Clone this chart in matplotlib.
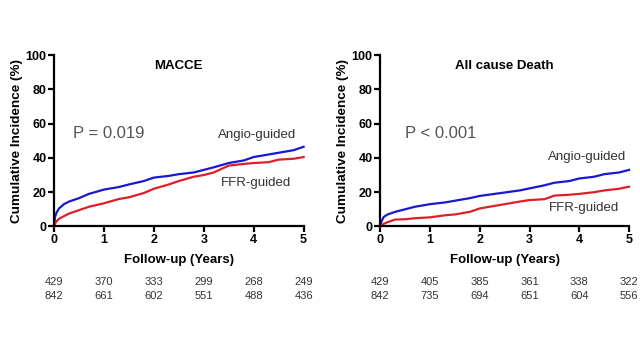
import matplotlib
matplotlib.use("Agg")
import matplotlib.pyplot as plt

# MACCE curves (years, cumulative incidence %)
macce_t = [0, 0.02, 0.05, 0.1, 0.2, 0.3, 0.5, 0.7, 1.0, 1.3, 1.5, 1.8, 2.0, 2.3, 2.5, 2.8, 3.0, 3.2, 3.5, 3.8, 4.0, 4.3, 4.5, 4.8, 5.0]
macce_angio = [0, 5.5, 8, 10.5, 13, 14.5, 16.5, 19, 21.5, 23, 24.5, 26.5, 28.5, 29.5, 30.5, 31.5, 33, 34.5, 37, 38.5, 40.5, 42, 43, 44.5, 46.5]
macce_ffr = [0, 1.5, 3, 4.5, 6, 7.5, 9.5, 11.5, 13.5, 16, 17, 19.5, 22, 24.5, 26.5, 29, 30, 31.5, 35.5, 36.5, 37, 37.5, 39, 39.5, 40.5]

# All cause death curves
death_t = [0, 0.02, 0.07, 0.15, 0.3, 0.5, 0.7, 1.0, 1.3, 1.5, 1.8, 2.0, 2.3, 2.5, 2.8, 3.0, 3.3, 3.5, 3.8, 4.0, 4.3, 4.5, 4.8, 5.0]
death_angio = [0, 2.5, 5.5, 7, 8.5, 10, 11.5, 13, 14, 15, 16.5, 17.8, 19, 19.8, 21, 22.2, 24, 25.5, 26.5, 28, 29, 30.5, 31.5, 33]
death_ffr = [0, 0.5, 1.5, 2.5, 4, 4.2, 4.8, 5.3, 6.5, 7, 8.5, 10.5, 12, 13, 14.5, 15.4, 15.9, 18, 18.5, 19, 20, 21, 22, 23.2]

ticks_x = [0, 1, 2, 3, 4, 5]
macce_risk_angio = [429, 370, 333, 299, 268, 249]
macce_risk_ffr = [842, 661, 602, 551, 488, 436]
death_risk_angio = [429, 405, 385, 361, 338, 322]
death_risk_ffr = [842, 735, 694, 651, 604, 556]

BLUE = "#1818d0"
RED = "#e01e26"
FONT = ["Liberation Sans", "DejaVu Sans"]

plt.rcParams["font.family"] = FONT

fig = plt.figure(figsize=(6.4, 3.6), dpi=100)
ax1 = fig.add_axes([0.0844, 0.371, 0.390, 0.476])
ax2 = fig.add_axes([0.594, 0.371, 0.389, 0.476])


def panel(ax, t, angio, ffr, title, ptext, ptxt_xy, ang_xy, ffr_xy, r_ang, r_ffr):
    ax.plot(t, angio, color=BLUE, lw=1.6, clip_on=False)
    ax.plot(t, ffr, color=RED, lw=1.6, clip_on=False)
    ax.set_xlim(0, 5)
    ax.set_ylim(0, 100)
    ax.set_xticks(ticks_x)
    ax.set_yticks([0, 20, 40, 60, 80, 100])
    for s in ["top", "right"]:
        ax.spines[s].set_visible(False)
    for s in ["left", "bottom"]:
        ax.spines[s].set_linewidth(1.6)
    ax.tick_params(length=4, width=1.6, pad=1.5, labelsize=9)
    for lab in ax.get_xticklabels() + ax.get_yticklabels():
        lab.set_fontweight("bold")
    ax.set_xlabel("Follow-up (Years)", fontsize=9.5, fontweight="bold", labelpad=6)
    ax.set_ylabel("Cumulative Incidence (%)", fontsize=9.7, fontweight="bold", labelpad=2)
    ax.text(2.5, 93.5, title, ha="center", va="center", fontsize=9.5, fontweight="bold")
    ax.text(ptxt_xy[0], ptxt_xy[1], ptext, ha="left", va="center", fontsize=12, color="#555555")
    ax.text(ang_xy[0], ang_xy[1], "Angio-guided", ha="right", va="center", fontsize=9.5, color="#333333")
    ax.text(ffr_xy[0], ffr_xy[1], "FFR-guided", ha="right", va="center", fontsize=9.5, color="#333333")
    tr = ax.get_xaxis_transform()
    for x, a, f in zip(ticks_x, r_ang, r_ffr):
        ax.text(x, -0.324, str(a), transform=tr, ha="center", va="center",
                fontsize=8, color="#333333")
        ax.text(x, -0.405, str(f), transform=tr, ha="center", va="center",
                fontsize=8, color="#333333")


panel(ax1, macce_t, macce_angio, macce_ffr, "MACCE", "P = 0.019",
      (0.38, 54.5), (4.85, 53.5), (4.75, 25.5), macce_risk_angio, macce_risk_ffr)
panel(ax2, death_t, death_angio, death_ffr, "All cause Death", "P < 0.001",
      (0.5, 54.5), (4.95, 40.5), (4.8, 10.5), death_risk_angio, death_risk_ffr)

fig.savefig("out.png", dpi=100)
